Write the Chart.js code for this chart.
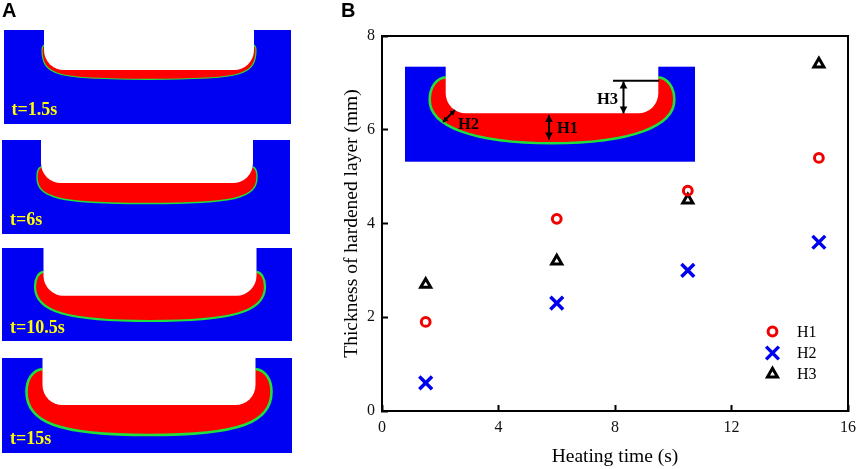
<!DOCTYPE html>
<html>
<head>
<meta charset="utf-8">
<style>
  html, body { margin: 0; padding: 0; background: #fff; }
  canvas { display: block; }
</style>
<script src="https://cdn.jsdelivr.net/npm/chart.js@4"></script>
</head>
<body>
<canvas id="chart" width="858" height="469"></canvas>
<script>
const heatingTimes = [1.5, 6, 10.5, 15];
const h1Values = [1.9, 4.1, 4.7, 5.4];
const h2Values = [0.6, 2.3, 3.0, 3.6];
const h3Values = [2.7, 3.2, 4.5, 7.4];
const xTicks = [0, 4, 8, 12, 16];
const yTicks = [0, 2, 4, 6, 8];
const panelLabels = ['t=1.5s', 't=6s', 't=10.5s', 't=15s'];

const SERIF = '"Liberation Serif", serif';
const BLUE = '#0000f2';
const RED = '#ff0000';
const GREEN = '#1fe03c';

// cross-section outlines of the hardened part, in page pixels
const sections = [
  { x0: 4, x1: 291, y0: 30, y1: 124, cl: 44, cr: 254, cb: 70, sy: 45, ol: 42, or: 256, my: 50, by: 79.3, gw: 1.2, ca: 0.9, cx: 0.15 },
  { x0: 2, x1: 290, y0: 140, y1: 234, cl: 41, cr: 253, cb: 183, sy: 167, ol: 37, or: 257, my: 177, by: 203.5, gw: 1.4, ca: 0.8, cx: 0.2 },
  { x0: 2, x1: 292, y0: 248, y1: 341, cl: 43.5, cr: 256.5, cb: 295.7, sy: 271.7, ol: 35, or: 265, my: 286.7, by: 321, gw: 2.2, ca: 0.75, cx: 0.3 },
  { x0: 2, x1: 292, y0: 358, y1: 453, cl: 42.5, cr: 255.5, cb: 405, sy: 369, ol: 26.5, or: 271.5, my: 391.7, by: 435, gw: 2.6, ca: 0.7, cx: 0.25 },
  { x0: 405, x1: 695, y0: 66.7, y1: 161.7, cl: 445.7, cr: 658.3, cb: 113.3, sy: 77.3, ol: 429.7, or: 674.3, my: 100, by: 143.3, gw: 2.6, ca: 0.6, cx: 0.35 },
];

function outerPath(ctx, s) {
  const mid = (s.cl + s.cr) / 2;
  ctx.beginPath();
  ctx.moveTo(s.cl, s.sy);
  ctx.bezierCurveTo(s.cl - (s.cl - s.ol) * 0.6, s.sy + 1, s.ol, s.my - (s.my - s.sy) * 0.55, s.ol, s.my);
  ctx.bezierCurveTo(s.ol, s.my + (s.by - s.my) * s.ca, s.ol + (mid - s.ol) * s.cx, s.by, mid, s.by);
  ctx.bezierCurveTo(s.or - (s.or - mid) * s.cx, s.by, s.or, s.my + (s.by - s.my) * s.ca, s.or, s.my);
  ctx.bezierCurveTo(s.or, s.my - (s.my - s.sy) * 0.55, s.cr + (s.or - s.cr) * 0.6, s.sy + 1, s.cr, s.sy);
}

function drawSection(ctx, s) {
  ctx.fillStyle = BLUE;
  ctx.fillRect(s.x0, s.y0, s.x1 - s.x0, s.y1 - s.y0);
  outerPath(ctx, s);
  ctx.closePath();
  ctx.fillStyle = RED;
  ctx.fill();
  outerPath(ctx, s);
  ctx.strokeStyle = GREEN;
  ctx.lineWidth = s.gw;
  ctx.stroke();
  const r = 20;
  ctx.beginPath();
  ctx.moveTo(s.cl, s.y0 - 1);
  ctx.lineTo(s.cl, s.cb - r);
  ctx.arcTo(s.cl, s.cb, s.cl + r, s.cb, r);
  ctx.lineTo(s.cr - r, s.cb);
  ctx.arcTo(s.cr, s.cb, s.cr, s.cb - r, r);
  ctx.lineTo(s.cr, s.y0 - 1);
  ctx.closePath();
  ctx.fillStyle = '#fff';
  ctx.fill();
}

function arrowHead(ctx, x, y, angle, size) {
  ctx.save();
  ctx.translate(x, y);
  ctx.rotate(angle);
  ctx.beginPath();
  ctx.moveTo(0, 0);
  ctx.lineTo(-size, -size * 0.55);
  ctx.lineTo(-size, size * 0.55);
  ctx.closePath();
  ctx.fill();
  ctx.restore();
}

function doubleArrow(ctx, x1, y1, x2, y2, size) {
  const a = Math.atan2(y2 - y1, x2 - x1);
  ctx.beginPath();
  ctx.moveTo(x1, y1);
  ctx.lineTo(x2, y2);
  ctx.stroke();
  arrowHead(ctx, x2, y2, a, size);
  arrowHead(ctx, x1, y1, a + Math.PI, size);
}

const figurePlugin = {
  id: 'figure',
  afterDraw(chart) {
    const ctx = chart.ctx;
    const area = chart.chartArea;
    ctx.save();

    sections.forEach((s) => drawSection(ctx, s));

    // panel A labels
    ctx.fillStyle = '#ffff00';
    ctx.font = 'bold 18px ' + SERIF;
    ctx.textBaseline = 'alphabetic';
    ctx.textAlign = 'left';
    ctx.fillText(panelLabels[0], 11.5, 115);
    ctx.fillText(panelLabels[1], 10, 225);
    ctx.fillText(panelLabels[2], 10, 333);
    ctx.fillText(panelLabels[3], 10, 444);

    // inset annotations
    ctx.strokeStyle = '#000';
    ctx.fillStyle = '#000';
    ctx.lineWidth = 2;
    doubleArrow(ctx, 549, 115, 549, 139.5, 7);
    doubleArrow(ctx, 623.5, 81.5, 623.5, 113.5, 7);
    doubleArrow(ctx, 443, 122, 455, 110, 5);
    ctx.beginPath();
    ctx.moveTo(613, 80.7);
    ctx.lineTo(659, 80.7);
    ctx.stroke();
    ctx.font = 'bold 16.5px ' + SERIF;
    ctx.fillText('H1', 557, 133);
    ctx.fillText('H2', 458, 129);
    ctx.fillText('H3', 597, 104);

    // frame
    ctx.lineWidth = 2;
    ctx.strokeStyle = '#000';
    ctx.strokeRect(area.left, area.top, area.right - area.left, area.bottom - area.top);

    // legend inside the plot
    const rowY = [331.5, 353, 374];
    chart.data.datasets.forEach((d, i) => {
      ctx.strokeStyle = d.borderColor;
      ctx.fillStyle = 'transparent';
      ctx.lineWidth = d.borderWidth;
      Chart.helpers.drawPoint(ctx, {
        pointStyle: d.pointStyle,
        radius: d.pointRadius,
        borderWidth: d.borderWidth,
      }, 772.5, rowY[i]);
      ctx.fillStyle = '#000';
      ctx.font = '16px ' + SERIF;
      ctx.textBaseline = 'middle';
      ctx.fillText(d.label, 797, rowY[i] + 1);
    });

    // panel letters
    ctx.fillStyle = '#000';
    ctx.textBaseline = 'alphabetic';
    ctx.font = 'bold 20px "Liberation Sans", sans-serif';
    ctx.fillText('A', 2, 17);
    ctx.fillText('B', 341, 17);
    ctx.restore();
  },
};

const toPoints = (values) => values.map((v, i) => ({ x: heatingTimes[i], y: v }));

new Chart(document.getElementById('chart'), {
  type: 'scatter',
  data: {
    datasets: [
      { label: 'H1', data: toPoints(h1Values), pointStyle: 'circle', pointRadius: 4.4, borderColor: '#f00000', backgroundColor: 'transparent', borderWidth: 3 },
      { label: 'H2', data: toPoints(h2Values), pointStyle: 'crossRot', pointRadius: 9, borderColor: '#0000f0', backgroundColor: 'transparent', borderWidth: 3.5 },
      { label: 'H3', data: toPoints(h3Values), pointStyle: 'triangle', pointRadius: 5.8, borderColor: '#000', backgroundColor: 'transparent', borderWidth: 3 },
    ],
  },
  options: {
    responsive: false,
    animation: false,
    layout: { autoPadding: false, padding: { left: 340, right: 10, top: 36, bottom: 0 } },
    scales: {
      x: {
        type: 'linear',
        min: 0,
        max: 16,
        afterBuildTicks: (axis) => { axis.ticks = xTicks.map((v) => ({ value: v })); },
        afterFit: (axis) => { axis.height = 58; axis.paddingLeft = 0; axis.paddingRight = 0; },
        title: { display: true, text: 'Heating time (s)', color: '#000', font: { family: SERIF, size: 19.5 }, padding: 0 },
        grid: { drawOnChartArea: false, tickLength: -6, tickColor: '#000', tickWidth: 2 },
        border: { color: '#000', width: 2 },
        ticks: { color: '#111', font: { family: SERIF, size: 16 }, padding: 13, maxRotation: 0 },
      },
      y: {
        min: 0,
        max: 8,
        afterBuildTicks: (axis) => { axis.ticks = yTicks.map((v) => ({ value: v })); },
        afterFit: (axis) => { axis.width = 42; axis.paddingTop = 0; axis.paddingBottom = 0; },
        title: { display: true, text: 'Thickness of hardened layer (mm)', color: '#000', font: { family: SERIF, size: 19.5 }, padding: 0 },
        grid: { drawOnChartArea: false, tickLength: -6, tickColor: '#000', tickWidth: 2 },
        border: { color: '#000', width: 2 },
        ticks: { color: '#111', font: { family: SERIF, size: 16 }, padding: 13 },
      },
    },
    plugins: {
      legend: { display: false },
      tooltip: { enabled: false },
    },
  },
  plugins: [figurePlugin],
});
</script>
</body>
</html>
